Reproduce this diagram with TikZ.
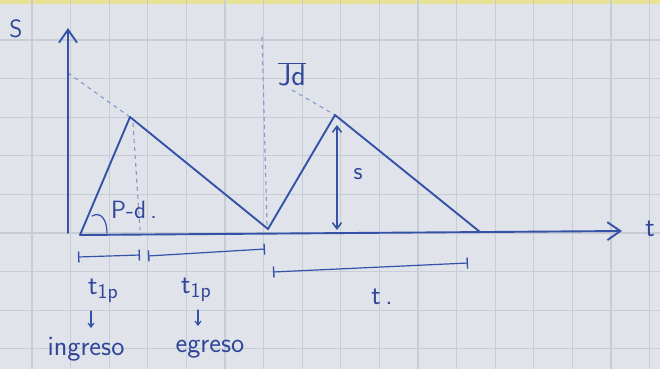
\documentclass[tikz,border=0pt]{standalone}
\usetikzlibrary{arrows.meta}
\definecolor{paper}{RGB}{224,227,234}
\definecolor{gridc}{RGB}{200,204,213}
\definecolor{pen}{RGB}{52,82,168}
\definecolor{ink}{RGB}{48,70,155}
\definecolor{tape}{RGB}{232,226,150}
\begin{document}
\begin{tikzpicture}[x=1pt,y=-1pt,
  pen/.style={draw=pen,line width=1.9pt,line cap=round,line join=round},
  thinpen/.style={draw=pen,line width=1.2pt,line cap=round},
  dashpen/.style={draw=pen!60,line width=1.1pt,dash pattern=on 4pt off 4pt},
  lbl/.style={text=ink,font=\sffamily\fontsize{25}{25}\selectfont,inner sep=0pt},
  biglbl/.style={text=ink,font=\sffamily\fontsize{28}{28}\selectfont,inner sep=0pt},
  bigtip/.style={-{Straight Barb[length=13pt,width=18pt,line width=1.9pt]}},
  dimbar/.style={thinpen,{Bar[width=11pt,line width=1.4pt]}-{Bar[width=11pt,line width=1.4pt]}}
]
\useasboundingbox (0,0) rectangle (660,369);
\fill[paper] (0,0) rectangle (660,369);
\fill[tape] (0,0) rectangle (660,4);
\foreach \i in {0,...,16} \draw[gridc,line width=1.1pt] ({32+38.6*\i},0) -- ++(0,369);
\foreach \i in {1,...,9} \draw[gridc,line width=1.1pt] (0,{1.4+38.6*\i}) -- ++(660,0);

% key points
\coordinate (ybot) at (68,233);
\coordinate (ytop) at (68,28);
\coordinate (xl) at (80,235);
\coordinate (xr) at (622,231);
\coordinate (p1) at (130,117);
\coordinate (m) at (268,229);
\coordinate (p2) at (335,115);
\coordinate (r2) at (480,232);

% dashed guides
\coordinate (d1a) at (68,73);
\draw[dashpen] (d1a) -- (p1);
\coordinate (d2a) at (133,123);
\coordinate (d2b) at (140,230);
\draw[dashpen] (d2a) -- (d2b);
\coordinate (d3a) at (262,37);
\coordinate (d3b) at (267,226);
\draw[dashpen] (d3a) -- (d3b);
\coordinate (d4a) at (292,90);
\draw[dashpen] (d4a) -- (p2);

% axes
\draw[pen,bigtip] (ybot) -- (ytop);
\draw[pen,bigtip] (xl) -- (xr);

% triangles
\draw[pen] (xl) -- (p1) -- (m) -- (p2) -- (r2);

% angle arc
\coordinate (a1) at (92,216);
\coordinate (a2) at (107,233);
\draw[thinpen] (a1) .. controls (101,211) and (107,220) .. (a2);

% s double arrow
\coordinate (s1) at (337,125);
\coordinate (s2) at (337,230);
\draw[pen,line width=1.6pt,{Straight Barb[length=6pt,width=9pt]}-{Straight Barb[length=6pt,width=9pt]}] (s1) -- (s2);

% dimension bars
\coordinate (b1a) at (78,257); \coordinate (b1b) at (140,255);
\draw[dimbar] (b1a) -- (b1b);
\coordinate (b2a) at (148,256); \coordinate (b2b) at (265,249);
\draw[dimbar] (b2a) -- (b2b);
\coordinate (b3a) at (273,272); \coordinate (b3b) at (468,263);
\draw[dimbar] (b3a) -- (b3b);

% small arrows
\coordinate (u1) at (91,311); \coordinate (v1) at (91,328);
\draw[thinpen,-{Straight Barb[length=4pt,width=6pt]}] (u1) -- (v1);
\coordinate (u2) at (198,310); \coordinate (v2) at (198,326);
\draw[thinpen,-{Straight Barb[length=4pt,width=6pt]}] (u2) -- (v2);

% labels
\node[lbl] (lS) at (16,29) {S};
\node[lbl,font=\sffamily\fontsize{30}{30}\selectfont] (lJd) at (292,74) {$\overline{\mbox{Jd}}$};
\node[lbl,anchor=west] (lPd) at (111,210) {P-d\,.};
\node[lbl] (ls) at (358,174) {s};
\node[biglbl] (lt) at (650,229) {t};
\node[lbl,font=\sffamily\fontsize{28}{28}\selectfont] (lt1) at (103,291) {t\lower4pt\hbox{\fontsize{21}{21}\selectfont 1p}};
\node[lbl,font=\sffamily\fontsize{28}{28}\selectfont] (lt2) at (196,290) {t\lower4pt\hbox{\fontsize{21}{21}\selectfont 1p}};
\node[biglbl] (ling) at (86,349) {ingreso};
\node[biglbl] (legr) at (210,349) {egreso};
\node[lbl,font=\sffamily\fontsize{28}{28}\selectfont] (ltt) at (382,297) {t\,.};
\end{tikzpicture}
\end{document}
